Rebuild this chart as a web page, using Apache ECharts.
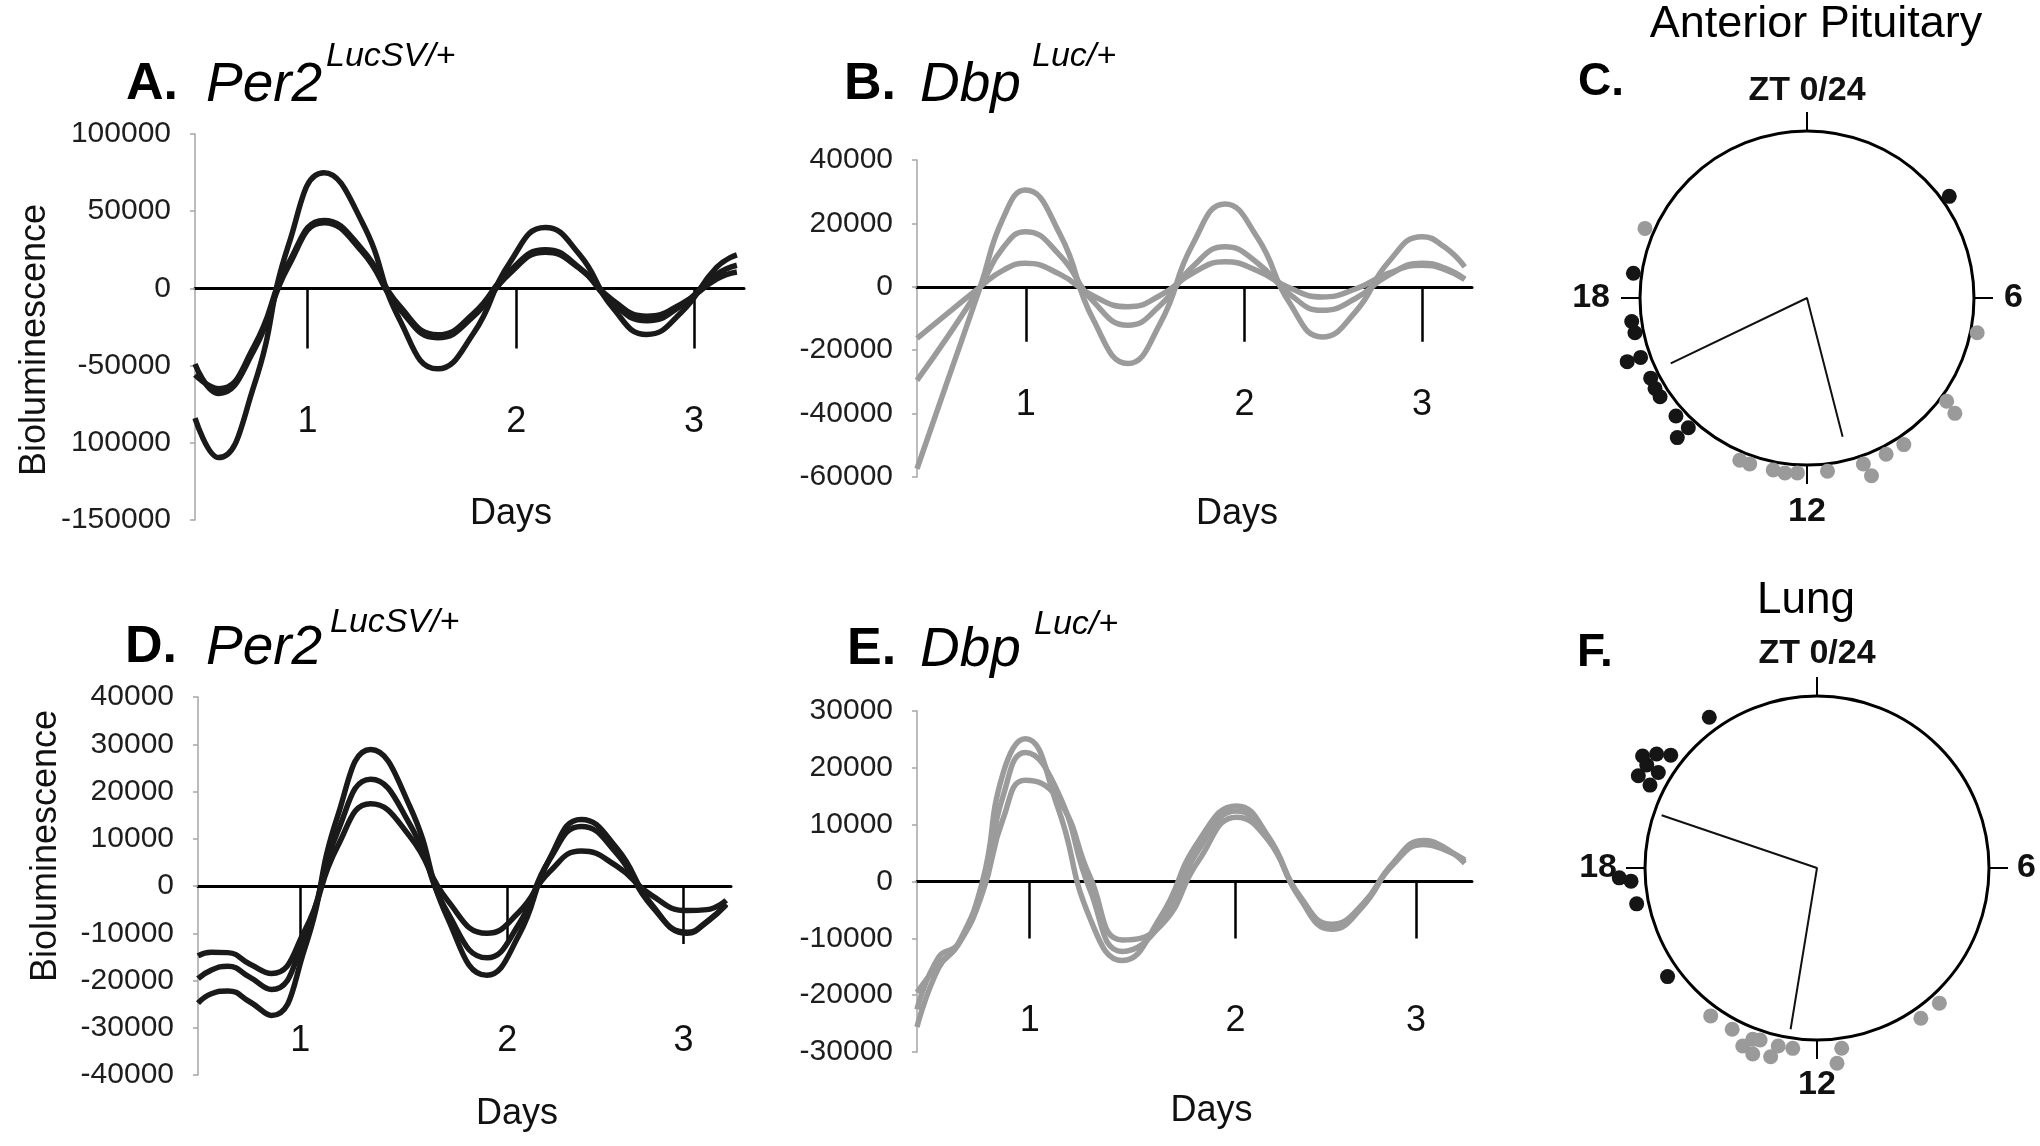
<!DOCTYPE html>
<html>
<head>
<meta charset="utf-8">
<script src="https://cdn.jsdelivr.net/npm/echarts@6/dist/echarts.min.js"></script>
<style>
html,body{margin:0;padding:0;background:#fff;}
#chart{width:2040px;height:1146px;}
</style>
</head>
<body>
<div id="chart"></div>
<script>
// ---------- DATA ----------
// x positions are in percent of the drawn time axis (0 = y axis, 100 = end of x axis line)
const dayLabels = ['1', '2', '3'];
const dayTicksA = [20.5, 58.5, 90.9];
const dayTicksB = [19.6, 59.0, 91.0];
const dayTicksD = [19.2, 58.0, 91.1];
const dayTicksE = [20.3, 57.4, 89.9];

const yLabelsA = ['-150000', '100000', '-50000', '0', '50000', '100000'];

// Panel A: Per2 LucSV/+ (anterior pituitary)
const xsA = [0, 4.3, 10.7, 17.1, 23.5, 30.4, 37.3, 44.2, 50.7, 57.3, 63.8, 70.0, 76.1, 82.3, 88.6, 95.0, 98.7];
const A1 = [-84000, -109600, -63500, 28800, 74900, 43200, -20400, -52100, -29200, 16500, 39400, 22100, -12500, -29800, -15400, 13600, 21700];
const A2 = [-49000, -68000, -40400, 14900, 42500, 23900, -13400, -32000, -18200, 9600, 23400, 13100, -7700, -18000, -10000, 6000, 10600];
const A3 = [-56000, -65000, -37800, 16800, 44000, 25500, -11500, -30000, -16300, 11300, 25000, 13500, -9500, -21000, -11000, 9000, 15000];

// Panel B: Dbp Luc/+ (anterior pituitary)
const xsB = [0, 5.5, 11.4, 15.5, 19.5, 25.7, 31.8, 38, 43.8, 49.7, 55.5, 61.3, 67.2, 73, 79, 85, 91, 95, 98.7];
const B1 = [-57400, -29700, 0, 21600, 30500, 16800, -10500, -24200, -11600, 13500, 26100, 15600, -5300, -15800, -7900, 7900, 15800, 12600, 6300];
const B2 = [-29500, -15800, 0, 12300, 17400, 10000, -4700, -12100, -5900, 6400, 12600, 7600, -2400, -7400, -3700, 3700, 7400, 6000, 2500];
const B3 = [-16300, -8400, 0, 5200, 7400, 4000, -2900, -6300, -2750, 4350, 7900, 5100, -400, -3200, -700, 4300, 6800, 5500, 2300];

// Panel D: Per2 LucSV/+ (lung)
const xsD = [0, 2.5, 5.6, 9.7, 13.8, 20.0, 26.2, 32.4, 39.7, 46.9, 54.2, 60.1, 66.0, 71.9, 78.5, 85.2, 91.8, 95.5, 99.1];
const D1 = [-24800, -22800, -22200, -24500, -27400, -13300, 14800, 28900, 16950, -6950, -18900, -10650, 5850, 14100, 8100, -4000, -10000, -7600, -4000];
const D2 = [-19600, -17800, -17000, -19300, -21900, -10800, 11500, 22600, 13150, -5750, -15200, -8250, 5650, 12600, 6950, -4350, -9800, -7500, -3800];
const D3 = [-14800, -14000, -14100, -16500, -18500, -9500, 8400, 17400, 10550, -3150, -10000, -5650, 3050, 7400, 4250, -2050, -5200, -5000, -3000];

// Panel E: Dbp Luc/+ (lung)
const xsE = [0, 3.9, 7.4, 11.8, 15.5, 19.5, 25.3, 31.2, 37, 43.9, 50.7, 57.6, 63.3, 69, 74.7, 80.2, 85.8, 91.3, 95, 98.7];
const E1 = [-25600, -15200, -11000, 0, 19000, 25100, 13250, -6550, -13900, -6200, 7050, 13300, 7900, -3000, -8400, -4500, 3300, 7200, 6000, 3200];
const E2 = [-22500, -13300, -11000, -1000, 15000, 22700, 15900, -1550, -12300, -7550, 5500, 12400, 7350, -2750, -7800, -4100, 3200, 6900, 5800, 3500];
const E3 = [-19500, -14600, -11200, -2000, 11000, 17800, 14700, 750, -10300, -7800, 3600, 11300, 7250, -2600, -7500, -4200, 3000, 6500, 5600, 3800];

// Phase plots: ZT (hours) and radius (1 = circle)
const zoneLabels = {0: 'ZT 0/24', 6: '6', 12: '12', 18: '18'};
const C_black_zt = [3.63, 18.54, 17.49, 17.24, 16.70, 16.69, 16.19, 15.95, 15.74, 15.20, 14.83, 14.86];
const C_black_r  = [1.047, 1.05, 1.059, 1.051, 1.142, 1.058, 1.052, 1.059, 1.06, 1.056, 1.053, 1.141];
const C_gray_zt  = [19.55, 6.77, 8.43, 8.53, 9.77, 10.21, 10.75, 10.67, 11.55, 12.21, 12.48, 12.74, 13.27, 13.50];
const C_gray_r   = [1.056, 1.04, 1.04, 1.123, 1.052, 1.049, 1.05, 1.132, 1.044, 1.049, 1.056, 1.05, 1.051, 1.052];
const C_vec_zt   = [16.29, 11.04];
const C_vec_len  = [0.905, 0.858];

const F_black_zt = [21.63, 20.18, 20.36, 20.51, 20.08, 19.82, 20.07, 19.76, 17.81, 17.73, 17.25, 15.60];
const F_black_r  = [1.077, 1.205, 1.144, 1.074, 1.157, 1.169, 1.077, 1.084, 1.151, 1.084, 1.069, 1.074];
const F_gray_zt  = [14.38, 13.85, 13.51, 13.37, 13.22, 13.27, 12.92, 12.82, 12.51, 11.48, 11.61, 9.69, 9.19];
const F_gray_r   = [1.059, 1.059, 1.121, 1.064, 1.053, 1.144, 1.13, 1.059, 1.058, 1.058, 1.141, 1.062, 1.06];
const F_vec_zt   = [19.25, 12.62];
const F_vec_len  = [0.954, 0.95];

// ---------- STYLE ----------
const FONT = 'Liberation Sans, Arial, sans-serif';
const BLACK = '#1a1a1a';
const GRAY = '#9b9b9b';

const chart = echarts.init(document.getElementById('chart'), null, {renderer: 'canvas'});

function pairs(xs, ys) { return xs.map((x, i) => [x, ys[i]]); }
function polarPts(zt, r) { return zt.map((a, i) => [r[i], a]); }

const grids = [
  {left: 195, top: 134, width: 549, height: 386},
  {left: 917, top: 160, width: 555, height: 317},
  {left: 198, top: 697, width: 533, height: 378},
  {left: 917, top: 711, width: 555, height: 341}
].map(g => Object.assign({containLabel: false, outerBoundsMode: 'none'}, g));

// labels and axis name are measured from the grid bottom edge
function makeX(gi, ticks, margin, tickLen, nameGap, namePad) {
  return {
    gridIndex: gi, type: 'value', min: 0, max: 100,
    axisLine: {show: true, onZero: true, lineStyle: {color: '#000', width: 3}},
    axisTick: {show: true, customValues: ticks, length: tickLen, lineStyle: {color: '#000', width: 2.5}},
    axisLabel: {show: true, customValues: ticks, margin: margin,
      formatter: v => { const i = ticks.findIndex(t => Math.abs(t - v) < 1e-6); return i >= 0 ? dayLabels[i] : ''; },
      fontSize: 36, color: '#111', fontFamily: FONT},
    splitLine: {show: false},
    name: 'Days', nameLocation: 'middle', nameGap: nameGap,
    nameTextStyle: {fontSize: 36, color: '#111', fontFamily: FONT, padding: [0, 0, 0, namePad]}
  };
}
function makeY(gi, min, max, interval, fmt) {
  return {
    gridIndex: gi, type: 'value', min: min, max: max, interval: interval,
    axisLine: {show: true, lineStyle: {color: '#a6a6a6', width: 1.5}},
    axisTick: {show: true, length: 5, lineStyle: {color: '#a6a6a6', width: 1.5}},
    axisLabel: {margin: 24, fontSize: 30, color: '#1e1e1e', fontFamily: FONT, formatter: fmt || (v => String(v))},
    splitLine: {show: false}
  };
}
function curve(gi, xs, ys, color) {
  return {type: 'line', xAxisIndex: gi, yAxisIndex: gi, data: pairs(xs, ys), smooth: 0.5,
    showSymbol: false, symbol: 'none', lineStyle: {color: color, width: 5.5}, itemStyle: {color: color},
    silent: true, animation: false, z: 3};
}
function angleAx(pi, margin, topLH) {
  return {
    polarIndex: pi, type: 'value', min: 0, max: 24, interval: 6, startAngle: 90, clockwise: true,
    axisLine: {show: true, lineStyle: {color: '#000', width: 3}},
    axisTick: {show: true, length: 19, lineStyle: {color: '#000', width: 2}},
    axisLabel: {show: true, margin: margin, fontSize: 34, fontWeight: 'bold', color: '#111', fontFamily: FONT,
      formatter: v => v === 0 ? '{z|' + zoneLabels[0] + '}' : (zoneLabels[v] !== undefined ? zoneLabels[v] : ''),
      rich: {z: {fontSize: 34, fontWeight: 'bold', color: '#111', fontFamily: FONT, lineHeight: topLH}}},
    splitLine: {show: false}, splitArea: {show: false}
  };
}
function radiusAx(pi) {
  return {polarIndex: pi, type: 'value', min: 0, max: 1, show: false,
    axisLine: {show: false}, axisTick: {show: false}, axisLabel: {show: false},
    splitLine: {show: false}, splitArea: {show: false}};
}
function dots(pi, zt, r, color) {
  return {type: 'scatter', coordinateSystem: 'polar', polarIndex: pi, clip: false,
    data: polarPts(zt, r), symbolSize: 15, itemStyle: {color: color, opacity: 1},
    silent: true, animation: false, z: 4};
}
function vectors(pi, zt, len) {
  return {type: 'line', coordinateSystem: 'polar', polarIndex: pi, clip: false,
    data: [[len[0], zt[0]], [0, 0], [len[1], zt[1]]],
    showSymbol: false, symbol: 'none', lineStyle: {color: '#111', width: 2}, silent: true, animation: false};
}

const tBold = (s, left, top, size) => ({text: s, left: left, top: top, padding: 0,
  textStyle: {fontSize: size, fontWeight: 'bold', color: '#000', fontFamily: FONT}});
const tItal = (s, left, top, size) => ({text: s, left: left, top: top, padding: 0,
  textStyle: {fontSize: size, fontStyle: 'italic', fontWeight: 'normal', color: '#000', fontFamily: FONT}});
const tCent = (s, cx, top, size) => ({text: s, left: cx, top: top, padding: 0, textAlign: 'center',
  textStyle: {fontSize: size, fontWeight: 'normal', color: '#000', fontFamily: FONT}});

const option = {
  backgroundColor: '#ffffff',
  animation: false,
  title: [
    tBold('A.', 126, 59, 52), tItal('Per2', 206, 58, 55), tItal('LucSV/+', 326, 40, 34),
    tBold('B.', 844, 59, 52), tItal('Dbp', 920, 58, 55), tItal('Luc/+', 1032, 40, 34),
    tBold('D.', 125, 622, 52), tItal('Per2', 206, 621, 55), tItal('LucSV/+', 330, 606, 34),
    tBold('E.', 847, 624, 52), tItal('Dbp', 920, 623, 55), tItal('Luc/+', 1034, 608, 34),
    tBold('C.', 1578, 59, 46), tBold('F.', 1577, 630, 46),
    tCent('Anterior Pituitary', 1816, 2, 45), tCent('Lung', 1806, 579, 44)
  ],
  graphic: [
    {type: 'text', x: 35, y: 340, rotation: Math.PI / 2, silent: true,
      style: {text: 'Bioluminescence', font: '36px ' + FONT, fill: '#111', align: 'center', verticalAlign: 'middle', textAlign: 'center', textVerticalAlign: 'middle'}},
    {type: 'text', x: 46, y: 846, rotation: Math.PI / 2, silent: true,
      style: {text: 'Bioluminescence', font: '36px ' + FONT, fill: '#111', align: 'center', verticalAlign: 'middle', textAlign: 'center', textVerticalAlign: 'middle'}}
  ],
  grid: grids,
  xAxis: [
    makeX(0, dayTicksA, -116, 60, -24, 83),
    makeX(1, dayTicksB, -90, 55, 19, 85),
    makeX(2, dayTicksD, -52, 58, 21, 105),
    makeX(3, dayTicksE, -49, 57, 41, 34)
  ],
  yAxis: [
    makeY(0, -150000, 100000, 50000, v => yLabelsA[Math.round((v + 150000) / 50000)]),
    makeY(1, -60000, 40000, 20000),
    makeY(2, -40000, 40000, 10000),
    makeY(3, -30000, 30000, 10000)
  ],
  polar: [
    {center: [1807, 298], radius: 167},
    {center: [1817, 868], radius: 172}
  ],
  angleAxis: [angleAx(0, 30, 20), angleAx(1, 28, 28)],
  radiusAxis: [radiusAx(0), radiusAx(1)],
  series: [
    curve(0, xsA, A1, BLACK), curve(0, xsA, A2, BLACK), curve(0, xsA, A3, BLACK),
    curve(1, xsB, B1, GRAY), curve(1, xsB, B2, GRAY), curve(1, xsB, B3, GRAY),
    curve(2, xsD, D1, BLACK), curve(2, xsD, D2, BLACK), curve(2, xsD, D3, BLACK),
    curve(3, xsE, E1, GRAY), curve(3, xsE, E2, GRAY), curve(3, xsE, E3, GRAY),
    vectors(0, C_vec_zt, C_vec_len), dots(0, C_black_zt, C_black_r, '#151515'), dots(0, C_gray_zt, C_gray_r, '#9a9a9a'),
    vectors(1, F_vec_zt, F_vec_len), dots(1, F_black_zt, F_black_r, '#151515'), dots(1, F_gray_zt, F_gray_r, '#9a9a9a')
  ]
};
chart.setOption(option);
</script>
</body>
</html>
